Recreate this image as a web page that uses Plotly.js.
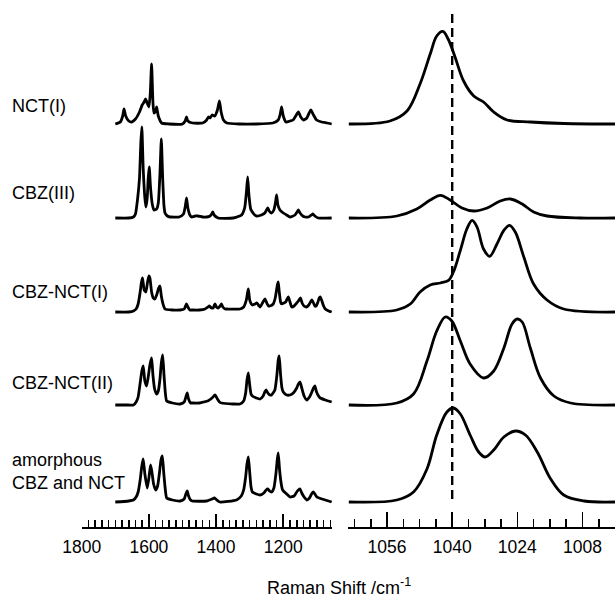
<!DOCTYPE html>
<html>
<head>
<meta charset="utf-8">
<script src="https://cdn.plot.ly/plotly-3.0.1.min.js"></script>
<style>html,body{margin:0;padding:0;background:#fff;}#chart{width:615px;height:597px;}</style>
</head>
<body>
<div id="chart"></div>
<script>
// ---- Data (Raman shift in cm^-1, intensity in arbitrary units) ----
const sampleNames = ["NCT(I)", "CBZ(III)", "CBZ-NCT(I)", "CBZ-NCT(II)", "amorphous<br>CBZ and NCT"];
const stackOffsets = [403, 309, 215, 122, 25];

// Left panel: 1700-1056 cm^-1 region
const nct1Fingerprint = [[1700,0],[1685,2],[1678,8],[1674,15],[1669,8],[1660,3],[1651,2],[1640,5],[1628,12],[1620,19],[1614,22],[1610,25],[1604,20],[1600,17],[1596,30],[1592,60],[1588,22],[1585,11],[1580,13],[1577,17],[1572,8],[1562,1],[1540,0],[1500,0],[1492,3],[1488,7],[1484,3],[1470,1],[1440,1],[1428,4],[1423,7],[1418,6],[1412,9],[1404,8],[1396,14],[1390,23],[1385,12],[1378,4],[1368,1],[1330,0],[1280,0],[1231,1],[1215,4],[1209,10],[1205,17],[1200,8],[1192,2],[1180,3],[1171,4],[1163,8],[1155,12],[1148,7],[1140,4],[1130,6],[1123,11],[1118,14],[1110,9],[1101,4],[1086,2],[1070,1],[1056,0]];
const cbz3Fingerprint = [[1700,0],[1660,0],[1646,1],[1640,4],[1634,18],[1628,40],[1624,75],[1621,91],[1617,50],[1612,20],[1609,11],[1605,20],[1602,40],[1599,51],[1595,30],[1590,14],[1585,8],[1577,9],[1572,15],[1567,45],[1563,79],[1559,40],[1555,12],[1552,5],[1545,2],[1537,1],[1510,1],[1497,4],[1492,11],[1488,20],[1484,10],[1478,3],[1473,1],[1462,2],[1454,2],[1440,1],[1428,1],[1418,2],[1413,4],[1410,6],[1406,3],[1394,0],[1349,0],[1330,2],[1324,3],[1315,10],[1310,25],[1306,41],[1302,22],[1297,9],[1294,7],[1285,3],[1279,2],[1265,3],[1255,5],[1250,8],[1246,10],[1242,7],[1235,5],[1228,8],[1223,16],[1220,23],[1216,13],[1210,8],[1200,5],[1190,3],[1180,1],[1165,3],[1159,6],[1155,8],[1150,5],[1142,2],[1135,1],[1125,1],[1116,3],[1112,4],[1106,2],[1096,0],[1056,0]];
const cbzNct1Fingerprint = [[1700,0],[1660,0],[1646,1],[1638,3],[1632,8],[1626,20],[1622,30],[1619,34],[1614,22],[1609,20],[1604,30],[1600,36],[1597,34],[1592,20],[1587,14],[1582,13],[1576,18],[1571,24],[1567,26],[1563,16],[1558,8],[1552,3],[1530,2],[1507,2],[1495,3],[1491,6],[1488,8],[1484,5],[1478,2],[1473,2],[1450,2],[1433,3],[1424,5],[1420,6],[1414,4],[1409,4],[1405,7],[1403,8],[1399,5],[1394,4],[1388,6],[1384,8],[1380,5],[1373,3],[1368,3],[1329,3],[1318,5],[1310,12],[1307,18],[1304,23],[1300,12],[1295,8],[1292,7],[1284,8],[1279,9],[1272,6],[1269,5],[1262,9],[1257,12],[1254,13],[1249,9],[1244,6],[1240,6],[1230,8],[1224,14],[1220,22],[1217,28],[1215,30],[1212,20],[1208,10],[1205,8],[1198,9],[1193,10],[1190,12],[1185,15],[1180,10],[1175,5],[1168,6],[1160,9],[1155,11],[1149,14],[1144,9],[1138,6],[1131,5],[1124,7],[1119,10],[1115,12],[1110,9],[1106,6],[1102,6],[1097,10],[1093,14],[1090,15],[1086,12],[1080,6],[1075,3],[1065,1],[1056,0]];
const cbzNct2Fingerprint = [[1700,0],[1660,0],[1646,0],[1638,3],[1632,8],[1626,22],[1621,34],[1617,39],[1612,24],[1607,19],[1602,28],[1597,40],[1592,47],[1588,30],[1583,16],[1577,11],[1572,14],[1567,26],[1563,42],[1559,50],[1555,30],[1551,12],[1547,4],[1530,2],[1507,1],[1495,3],[1490,8],[1486,12],[1482,6],[1476,2],[1473,2],[1450,2],[1438,3],[1425,4],[1412,7],[1403,10],[1396,6],[1390,3],[1384,2],[1350,1],[1329,1],[1318,4],[1312,12],[1308,25],[1304,32],[1300,20],[1296,11],[1292,9],[1280,7],[1269,6],[1260,9],[1255,13],[1251,15],[1246,12],[1240,10],[1235,10],[1225,15],[1219,30],[1215,45],[1212,49],[1208,30],[1204,17],[1200,13],[1190,10],[1180,10],[1170,12],[1160,17],[1155,21],[1150,23],[1145,17],[1138,9],[1130,5],[1122,8],[1115,13],[1110,17],[1106,19],[1101,13],[1095,9],[1090,7],[1075,5],[1056,3]];
const amorphousFingerprint = [[1700,0],[1660,1],[1646,2],[1638,5],[1632,10],[1626,22],[1621,36],[1617,43],[1612,28],[1605,14],[1600,24],[1595,37],[1591,30],[1586,18],[1580,12],[1574,16],[1569,28],[1564,42],[1560,46],[1556,30],[1551,12],[1547,4],[1530,2],[1507,1],[1495,3],[1490,8],[1486,11],[1482,6],[1476,2],[1471,1],[1428,1],[1412,3],[1405,4],[1398,2],[1389,0],[1339,2],[1325,6],[1318,12],[1312,25],[1308,38],[1304,45],[1300,30],[1296,15],[1292,10],[1280,8],[1269,7],[1258,9],[1251,12],[1246,13],[1241,11],[1235,10],[1228,14],[1222,28],[1218,42],[1215,49],[1211,32],[1206,18],[1202,12],[1190,8],[1180,5],[1168,6],[1160,10],[1155,12],[1150,13],[1145,9],[1138,5],[1130,2],[1122,4],[1116,8],[1111,10],[1106,8],[1100,5],[1093,4],[1075,2],[1056,0]];

// Right panel: 1065-1000 cm^-1 region (ring breathing band)
const nct1Band = [[1065.4,0],[1055.3,3],[1051.1,13],[1047.9,40],[1045.4,70],[1043.8,88],[1042.3,92.6],[1041.0,85],[1039.3,67],[1037.2,43],[1034.7,28],[1032.3,22],[1029.8,12],[1026.5,4],[1020.8,2],[1012.6,0.5],[1000,0]];
const cbz3Band = [[1065.4,0],[1053.6,2],[1048.7,9],[1045.4,18],[1042.9,22.7],[1040.5,18],[1037.6,10],[1034.7,7],[1031.4,10],[1028.2,17],[1025.7,19],[1022.8,14],[1020.0,6],[1016.7,2],[1008.5,0],[1000,0]];
const cbzNct1Band = [[1065.4,0],[1053.6,2],[1050.3,8],[1047.9,20],[1045.4,27],[1042.9,29],[1040.9,31.7],[1039.7,40],[1038.0,61.7],[1036.4,83],[1035.1,91.7],[1033.9,85],[1032.3,63],[1030.8,55.7],[1029.0,68],[1027.3,81.7],[1025.9,86.7],[1024.5,80],[1022.4,55],[1020.0,28],[1016.7,12],[1012.6,3],[1000,0]];
const cbzNct2Band = [[1065.4,0],[1053.6,2],[1049.5,11],[1046.2,44],[1043.8,74],[1041.7,88],[1040.1,84],[1038.0,64],[1035.6,41],[1032.3,27],[1029.8,34],[1027.3,57],[1025.3,81],[1024.0,86],[1022.8,83],[1020.8,57],[1018.3,27],[1015.0,9],[1010.9,2],[1000,0]];
const amorphousBand = [[1065.4,0],[1053.6,2],[1049.5,10],[1046.2,33],[1043.8,67],[1041.3,90],[1039.7,94],[1038.0,88],[1035.6,67],[1033.5,50],[1031.9,45],[1029.8,52],[1027.3,65],[1024.5,71],[1022.0,67],[1019.1,50],[1015.8,23],[1012.6,7],[1007.6,1],[1000,0]];

const fingerprintSeries = [nct1Fingerprint, cbz3Fingerprint, cbzNct1Fingerprint, cbzNct2Fingerprint, amorphousFingerprint];
const bandSeries = [nct1Band, cbz3Band, cbzNct1Band, cbzNct2Band, amorphousBand];

const referenceShift = 1040;          // dashed marker
const referenceSpan = [28, 514];      // vertical extent of the marker (stack units)

// ---- Build traces ----
const traces = [];
const lineStyle = {color: '#000', width: 2.8};
fingerprintSeries.forEach((s, i) => {
  traces.push({
    x: s.map(p => p[0]), y: s.map(p => p[1] + stackOffsets[i]),
    xaxis: 'x', yaxis: 'y', mode: 'lines', hoverinfo: 'skip',
    line: Object.assign({shape: 'spline', smoothing: 0.5}, lineStyle), showlegend: false
  });
});
bandSeries.forEach((s, i) => {
  traces.push({
    x: s.map(p => p[0]), y: s.map(p => p[1] + stackOffsets[i]),
    xaxis: 'x2', yaxis: 'y', mode: 'lines', hoverinfo: 'skip',
    line: Object.assign({shape: 'spline', smoothing: 1}, lineStyle), showlegend: false
  });
});
traces.push({
  x: [referenceShift, referenceShift], y: referenceSpan, xaxis: 'x2', yaxis: 'y',
  mode: 'lines', hoverinfo: 'skip', showlegend: false,
  line: {color: '#000', width: 2.4, dash: '9px,5px'}
});

const font = {family: 'Arial, "Liberation Sans", sans-serif', color: '#000'};
const axisCommon = {
  showline: true, linecolor: '#000', linewidth: 2, mirror: false,
  showgrid: false, zeroline: false, ticks: 'inside', tickcolor: '#000', tickwidth: 1.6,
  ticklabelstandoff: 3,
  tickfont: Object.assign({size: 17.5}, font), fixedrange: true
};

const annotations = sampleNames.map((name, i) => ({
  text: name, xref: 'paper', yref: 'y', x: 10 / 615, y: stackOffsets[i] + [18, 25, 20, 22, 31][i],
  xanchor: 'left', yanchor: 'middle', align: 'left', showarrow: false,
  font: Object.assign({size: 18}, font)
}));
annotations.push({
  text: 'Raman Shift /cm<sup>-1</sup>', xref: 'paper', yref: 'paper', x: 339 / 615, y: -0.113,
  xanchor: 'center', yanchor: 'middle', showarrow: false, font: Object.assign({size: 18}, font)
});

const layout = {
  width: 615, height: 597,
  margin: {l: 0, r: 0, t: 0, b: 70, pad: 0},
  paper_bgcolor: '#fff', plot_bgcolor: '#fff',
  showlegend: false,
  xaxis: Object.assign({}, axisCommon, {
    domain: [81.7 / 615, 332 / 615], range: [1800, 1055], anchor: 'y',
    tick0: 0, dtick: 200, ticklen: 13,
    minor: {dtick: 20, ticks: 'inside', ticklen: 7, tickwidth: 1.6, tickcolor: '#000', showgrid: false}
  }),
  xaxis2: Object.assign({}, axisCommon, {
    domain: [348 / 615, 1], range: [1065.6, 1000], anchor: 'y',
    tick0: 1008, dtick: 16, ticklen: 15,
    minor: {dtick: 4, ticks: 'inside', ticklen: 8, tickwidth: 1.6, tickcolor: '#000', showgrid: false}
  }),
  yaxis: {domain: [0, 1], range: [0, 527], visible: false, fixedrange: true},
  annotations: annotations
};

Plotly.newPlot('chart', traces, layout, {displayModeBar: false, staticPlot: true});
</script>
</body>
</html>
